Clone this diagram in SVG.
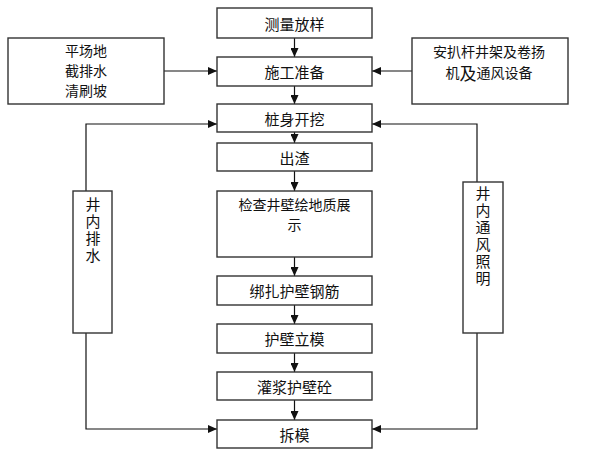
<svg xmlns="http://www.w3.org/2000/svg" width="600" height="450" viewBox="0 0 600 450">
<defs>
<style>
.box{fill:#fff;stroke:#333;stroke-width:1.4}
.t{font-family:"Noto Sans CJK SC","Liberation Sans",sans-serif;font-size:15px;fill:#111;text-anchor:middle;dominant-baseline:central}
.m{font-size:14px}
.v{writing-mode:vertical-rl;letter-spacing:2px}
.ln{fill:none;stroke:#111;stroke-width:1.2}
</style>
<marker id="ah" markerWidth="9" markerHeight="8" refX="9" refY="4" orient="auto" markerUnits="userSpaceOnUse">
<path d="M0,0 L9,4 L0,8 Z" fill="#111"/>
</marker>
</defs>
<rect width="600" height="450" fill="#fff"/>
<g id="connectors">
<line class="ln" x1="294.5" y1="38" x2="294.5" y2="57" marker-end="url(#ah)"/>
<line class="ln" x1="294.5" y1="86" x2="294.5" y2="104" marker-end="url(#ah)"/>
<line class="ln" x1="294.5" y1="132" x2="294.5" y2="143" marker-end="url(#ah)"/>
<line class="ln" x1="294.5" y1="171" x2="294.5" y2="191" marker-end="url(#ah)"/>
<line class="ln" x1="294.5" y1="257" x2="294.5" y2="276" marker-end="url(#ah)"/>
<line class="ln" x1="294.5" y1="305" x2="294.5" y2="324" marker-end="url(#ah)"/>
<line class="ln" x1="294.5" y1="353" x2="294.5" y2="372" marker-end="url(#ah)"/>
<line class="ln" x1="294.5" y1="400" x2="294.5" y2="420" marker-end="url(#ah)"/>
<line class="ln" x1="164" y1="71" x2="217" y2="71" marker-end="url(#ah)"/>
<line class="ln" x1="412" y1="71" x2="372" y2="71" marker-end="url(#ah)"/>
<polyline class="ln" points="86,191 86,124 217,124" marker-end="url(#ah)"/>
<polyline class="ln" points="86,333 86,429 217,429" marker-end="url(#ah)"/>
<polyline class="ln" points="477,182 477,124 372,124" marker-end="url(#ah)"/>
<polyline class="ln" points="477,333 477,429 372,429" marker-end="url(#ah)"/>
</g>
<g id="n1"><rect class="box" x="217" y="8" width="155" height="30"/><text class="t" x="294.5" y="23">测量放样</text></g>
<g id="n2"><rect class="box" x="217" y="57" width="155" height="29"/><text class="t" x="294.5" y="71.5">施工准备</text></g>
<g id="n3"><rect class="box" x="217" y="104" width="155" height="28"/><text class="t" x="294.5" y="118">桩身开挖</text></g>
<g id="n4"><rect class="box" x="217" y="143" width="155" height="28"/><text class="t" x="294.5" y="157">出渣</text></g>
<g id="n5"><rect class="box" x="217" y="191" width="155" height="66"/><text class="t m" x="294.5" y="204">检查井壁绘地质展</text><text class="t m" x="294.5" y="224">示</text></g>
<g id="n6"><rect class="box" x="217" y="276" width="155" height="29"/><text class="t" x="294.5" y="290.5">绑扎护壁钢筋</text></g>
<g id="n7"><rect class="box" x="217" y="324" width="155" height="29"/><text class="t" x="294.5" y="338.5">护壁立模</text></g>
<g id="n8"><rect class="box" x="217" y="372" width="155" height="28"/><text class="t" x="294.5" y="386">灌浆护壁砼</text></g>
<g id="n9"><rect class="box" x="217" y="420" width="155" height="28"/><text class="t" x="294.5" y="434">拆模</text></g>
<g id="left"><rect class="box" x="8" y="38" width="156" height="66"/>
<text class="t m" x="86" y="50">平场地</text><text class="t m" x="86" y="70">截排水</text><text class="t m" x="86" y="90">清刷坡</text></g>
<g id="right"><rect class="box" x="412" y="38" width="156" height="66"/>
<text class="t m" x="489" y="51">安扒杆井架及卷扬</text>
<text class="t m" x="489" y="72">机<tspan font-size="17">及</tspan>通风设备</text></g>
<g id="drain"><rect class="box" x="73" y="191" width="39" height="142"/>
<text class="t v" x="93" y="231">井内排水</text></g>
<g id="vent"><rect class="box" x="463" y="182" width="40" height="151"/>
<text class="t v" x="483" y="237">井内通风照明</text></g>
</svg>
